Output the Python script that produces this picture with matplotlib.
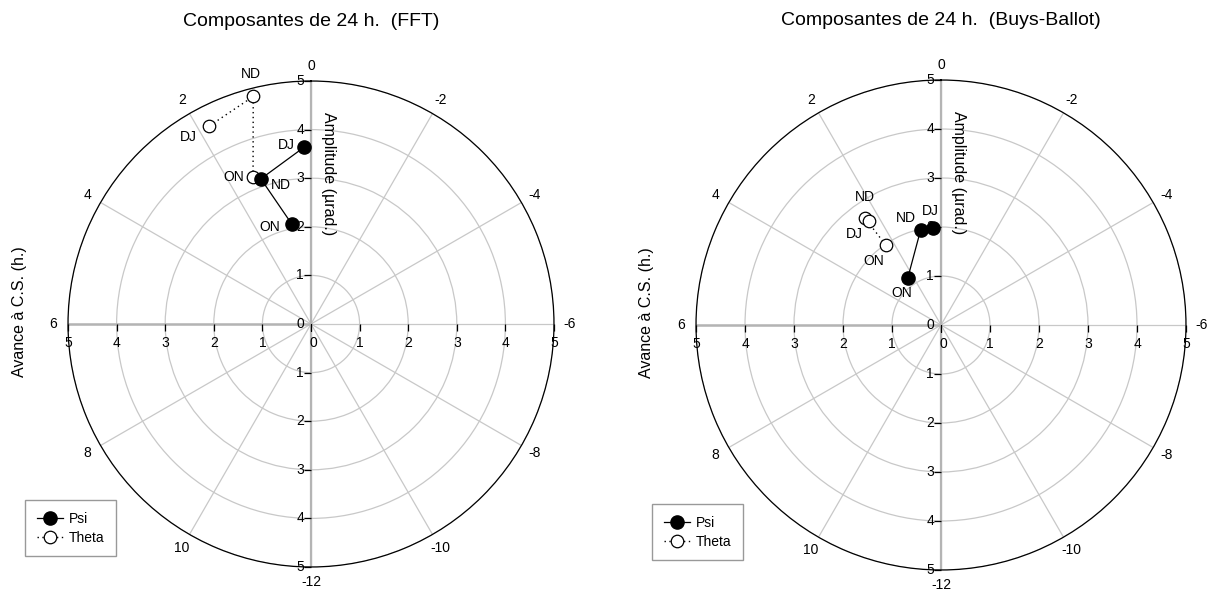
import numpy as np
import matplotlib
matplotlib.use('Agg')  # no display
import matplotlib.pyplot as plt
from matplotlib.lines import Line2D

plt.rcParams['font.family'] = ['Liberation Sans', 'DejaVu Sans']

# --- data (amplitude in µrad, phase = avance a C.S. in hours) ---
seasons = ['ON', 'ND', 'DJ']

fft_psi_amp = [2.10, 3.16, 3.64]
fft_psi_phase = [0.73, 1.27, 0.15]
fft_theta_amp = [3.26, 4.83, 4.58]
fft_theta_phase = [1.43, 0.95, 1.81]

bb_psi_amp = [1.18, 1.98, 1.99]
bb_psi_phase = [2.33, 0.81, 0.33]
bb_theta_amp = [1.98, 2.69, 2.58]
bb_theta_phase = [2.31, 2.36, 2.32]

hour_ticks = list(range(0, 24, 2))
amp_ticks = [1, 2, 3, 4, 5]

# label offsets for the season names (pixels)
fft_psi_off = [(-22, -3), (20, -6), (-18, 2)]
fft_theta_off = [(-19, 0), (-2, 22), (-21, -11)]
bb_psi_off = [(-6, -15), (-15, 12), (-2, 17)]
bb_theta_off = [(-12, -16), (0, 21), (-15, -13)]


def h2rad(h):
    return np.asarray(h, dtype=float) * 2 * np.pi / 24


def draw_panel(ax, title, psi_amp, psi_phase, th_amp, th_phase, psi_off, th_off):
    ax.set_theta_zero_location('N')
    ax.set_theta_direction(1)
    ax.set_ylim(0, 5)
    ax.set_yticks(amp_ticks)
    ax.set_yticklabels([])
    ax.set_xticks(h2rad(hour_ticks))
    ax.set_xticklabels([str(h if h < 12 else h - 24) for h in hour_ticks])
    ax.grid(True, color='#c8c8c8', lw=0.9)
    ax.spines['polar'].set_color('black')
    ax.spines['polar'].set_linewidth(0.9)
    ax.tick_params(axis='x', labelsize=10, pad=0, direction='out', length=4,
                   width=0.8, color='#555555')
    ax.tick_params(axis='y', length=0)

    # main axes (vertical + horizontal through centre)
    ax.plot(h2rad([0, 0]), [0, 5], color='#b4b4b4', lw=1.6, zorder=2)
    ax.plot(h2rad([12, 12]), [0, 5], color='#b4b4b4', lw=1.6, zorder=2)
    ax.plot(h2rad([6, 6]), [0, 5], color='#b4b4b4', lw=1.8, zorder=2)

    # amplitude ticks and labels along the axes
    zero = np.zeros(len(amp_ticks))
    for ang in (0, 12):
        ax.plot(h2rad(zero + ang), amp_ticks, ls='none', marker=0, ms=5,
                mew=0.9, color='black', clip_on=False, zorder=4)
        for r in amp_ticks:
            ax.annotate(str(r), xy=(h2rad(ang), r), xytext=(-7, 0),
                        textcoords='offset pixels', ha='right', va='center',
                        fontsize=10, annotation_clip=False)
    ax.annotate('0', xy=(0, 0), xytext=(-7, 0), textcoords='offset pixels',
                ha='right', va='center', fontsize=10, annotation_clip=False)
    for ang in (6, 18):
        ax.plot(h2rad(zero + ang), amp_ticks, ls='none', marker=3, ms=5,
                mew=0.9, color='black', clip_on=False, zorder=4)
        for r in amp_ticks:
            ax.annotate(str(r), xy=(h2rad(ang), r), xytext=(0, -12),
                        textcoords='offset pixels', ha='center', va='top',
                        fontsize=10, annotation_clip=False)
    ax.plot([0], [0], ls='none', marker=3, ms=5, mew=0.9, color='black', zorder=4)
    ax.annotate('0', xy=(0, 0), xytext=(2, -12), textcoords='offset pixels',
                ha='center', va='top', fontsize=10, annotation_clip=False)

    # data
    ax.plot(h2rad(psi_phase), psi_amp, color='black', lw=0.9, marker='o',
            ms=9.5, mfc='black', mec='black', zorder=6, clip_on=False)
    ax.plot(h2rad(th_phase), th_amp, color='black', lw=1.0, ls=(0, (1, 2.5)),
            marker='o', ms=9, mfc='white', mec='black', mew=0.9, zorder=5,
            clip_on=False)
    for name, a, p, off in zip(seasons, psi_amp, psi_phase, psi_off):
        ax.annotate(name, xy=(h2rad(p), a), xytext=off, textcoords='offset pixels',
                    ha='center', va='center', fontsize=10, zorder=7)
    for name, a, p, off in zip(seasons, th_amp, th_phase, th_off):
        ax.annotate(name, xy=(h2rad(p), a), xytext=off, textcoords='offset pixels',
                    ha='center', va='center', fontsize=10, zorder=7)

    ax.text(0.5, 1.122, title, transform=ax.transAxes, ha='center', va='center',
            fontsize=14)
    ax.text(0.535, 0.81, 'Amplitude (µrad.)', transform=ax.transAxes,
            rotation=-90, ha='center', va='center', fontsize=11.5)
    ax.text(-0.1, 0.525, 'Avance à C.S. (h.)', transform=ax.transAxes,
            rotation=90, ha='center', va='center', fontsize=11.5)


fig = plt.figure(figsize=(12.11, 5.92), dpi=100)
W, H = 1211.0, 592.0

ax1 = fig.add_axes([(311 - 243) / W, (H - 324 - 243) / H, 486 / W, 486 / H], projection='polar')
ax2 = fig.add_axes([(941 - 245) / W, (H - 325 - 245) / H, 490 / W, 490 / H], projection='polar')

draw_panel(ax1, 'Composantes de 24 h.  (FFT)', fft_psi_amp, fft_psi_phase,
           fft_theta_amp, fft_theta_phase, fft_psi_off, fft_theta_off)
draw_panel(ax2, 'Composantes de 24 h.  (Buys-Ballot)', bb_psi_amp, bb_psi_phase,
           bb_theta_amp, bb_theta_phase, bb_psi_off, bb_theta_off)

handles = [
    Line2D([], [], color='black', lw=0.9, marker='o', ms=9.5, mfc='black', label='Psi'),
    Line2D([], [], color='black', lw=1.0, ls=(0, (1, 2.5)), marker='o', ms=9,
           mfc='white', mew=0.9, label='Theta'),
]
for x0, y0 in ((25, 500), (652, 504)):
    leg = fig.legend(handles=handles, loc='upper left',
                     bbox_to_anchor=(x0 / W, 1 - y0 / H), borderaxespad=0,
                     fontsize=10, frameon=True, fancybox=False, handlelength=1.9,
                     borderpad=0.85, labelspacing=0.35, handletextpad=0.4)
    leg.get_frame().set_edgecolor('#808080')
    leg.get_frame().set_linewidth(1.0)

fig.savefig('out.png', dpi=100)
